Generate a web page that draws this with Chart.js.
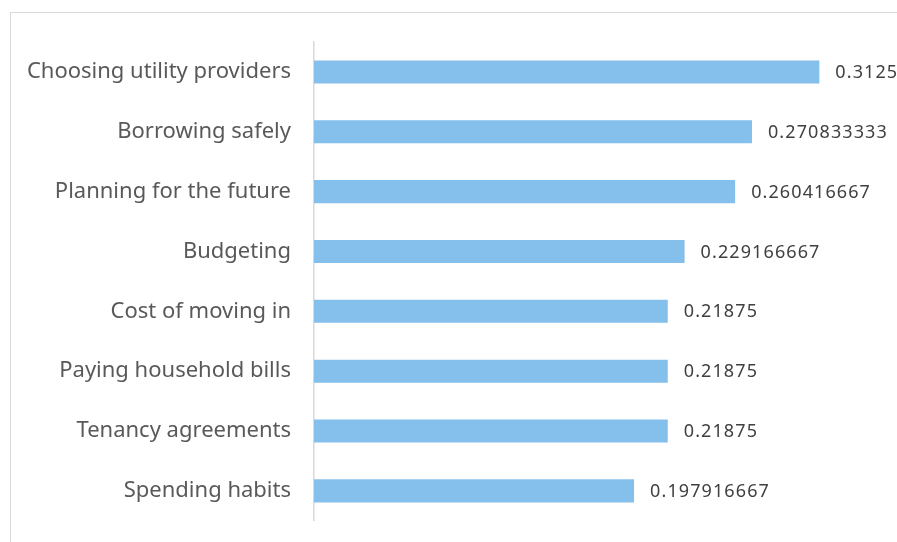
<!DOCTYPE html>
<html>
<head>
<meta charset="utf-8">
<script src="https://cdn.jsdelivr.net/npm/chart.js@4/dist/chart.umd.min.js"></script>
<style>
  html, body { margin: 0; padding: 0; background: #fff; overflow: hidden; }
  #wrap { position: relative; width: 897px; height: 542px; overflow: hidden; }
  #frame { position: absolute; left: 10px; top: 12px; width: 900px; height: 540px; border: 1px solid #d9d9d9; box-sizing: border-box; }
  canvas { position: absolute; left: 0; top: 0; }
</style>
</head>
<body>
<div id="wrap">
  <div id="frame"></div>
  <canvas id="myChart" width="897" height="549"></canvas>
</div>
<script>
const categories = [
  'Choosing utility providers',
  'Borrowing safely',
  'Planning for the future',
  'Budgeting',
  'Cost of moving in',
  'Paying household bills',
  'Tenancy agreements',
  'Spending habits'
]
const values = [0.3125, 0.270833333, 0.260416667, 0.229166667, 0.21875, 0.21875, 0.21875, 0.197916667]
const valueLabels = ['0.3125', '0.270833333', '0.260416667', '0.229166667', '0.21875', '0.21875', '0.21875', '0.197916667']

// writes the value text just past the end of each bar
const barValues = {
  id: 'barValues',
  afterDatasetsDraw(chart) {
    const ctx = chart.ctx
    const meta = chart.getDatasetMeta(0)
    ctx.save()
    ctx.font = '18px "Noto Sans", sans-serif'
    ctx.letterSpacing = '1.1px'
    ctx.fillStyle = '#404040'
    ctx.textAlign = 'left'
    ctx.textBaseline = 'middle'
    meta.data.forEach((bar, i) => {
      ctx.fillText(valueLabels[i], bar.x + 16, bar.y + 1)
    })
    ctx.restore()
  }
}

const ctx = document.getElementById('myChart')
new Chart(ctx, {
  type: 'bar',
  data: {
    labels: categories,
    datasets: [{
      data: values,
      backgroundColor: '#85bfeb',
      borderWidth: 0,
      barPercentage: 0.77,
      categoryPercentage: 0.5
    }]
  },
  options: {
    indexAxis: 'y',
    responsive: false,
    animation: false,
    layout: { padding: { top: 42, bottom: 0, right: 17, left: 0 } },
    plugins: {
      legend: { display: false },
      tooltip: { enabled: false }
    },
    scales: {
      x: {
        display: false,
        min: 0,
        max: 0.35
      },
      y: {
        afterFit(scale) { scale.width = 314 },
        grid: { display: false },
        border: { display: true, color: '#d9d9d9', width: 1.5 },
        ticks: {
          padding: 15,
          color: '#595959',
          font: { family: '"Noto Sans", sans-serif', size: 22 }
        }
      }
    }
  },
  plugins: [barValues]
})
</script>
</body>
</html>
